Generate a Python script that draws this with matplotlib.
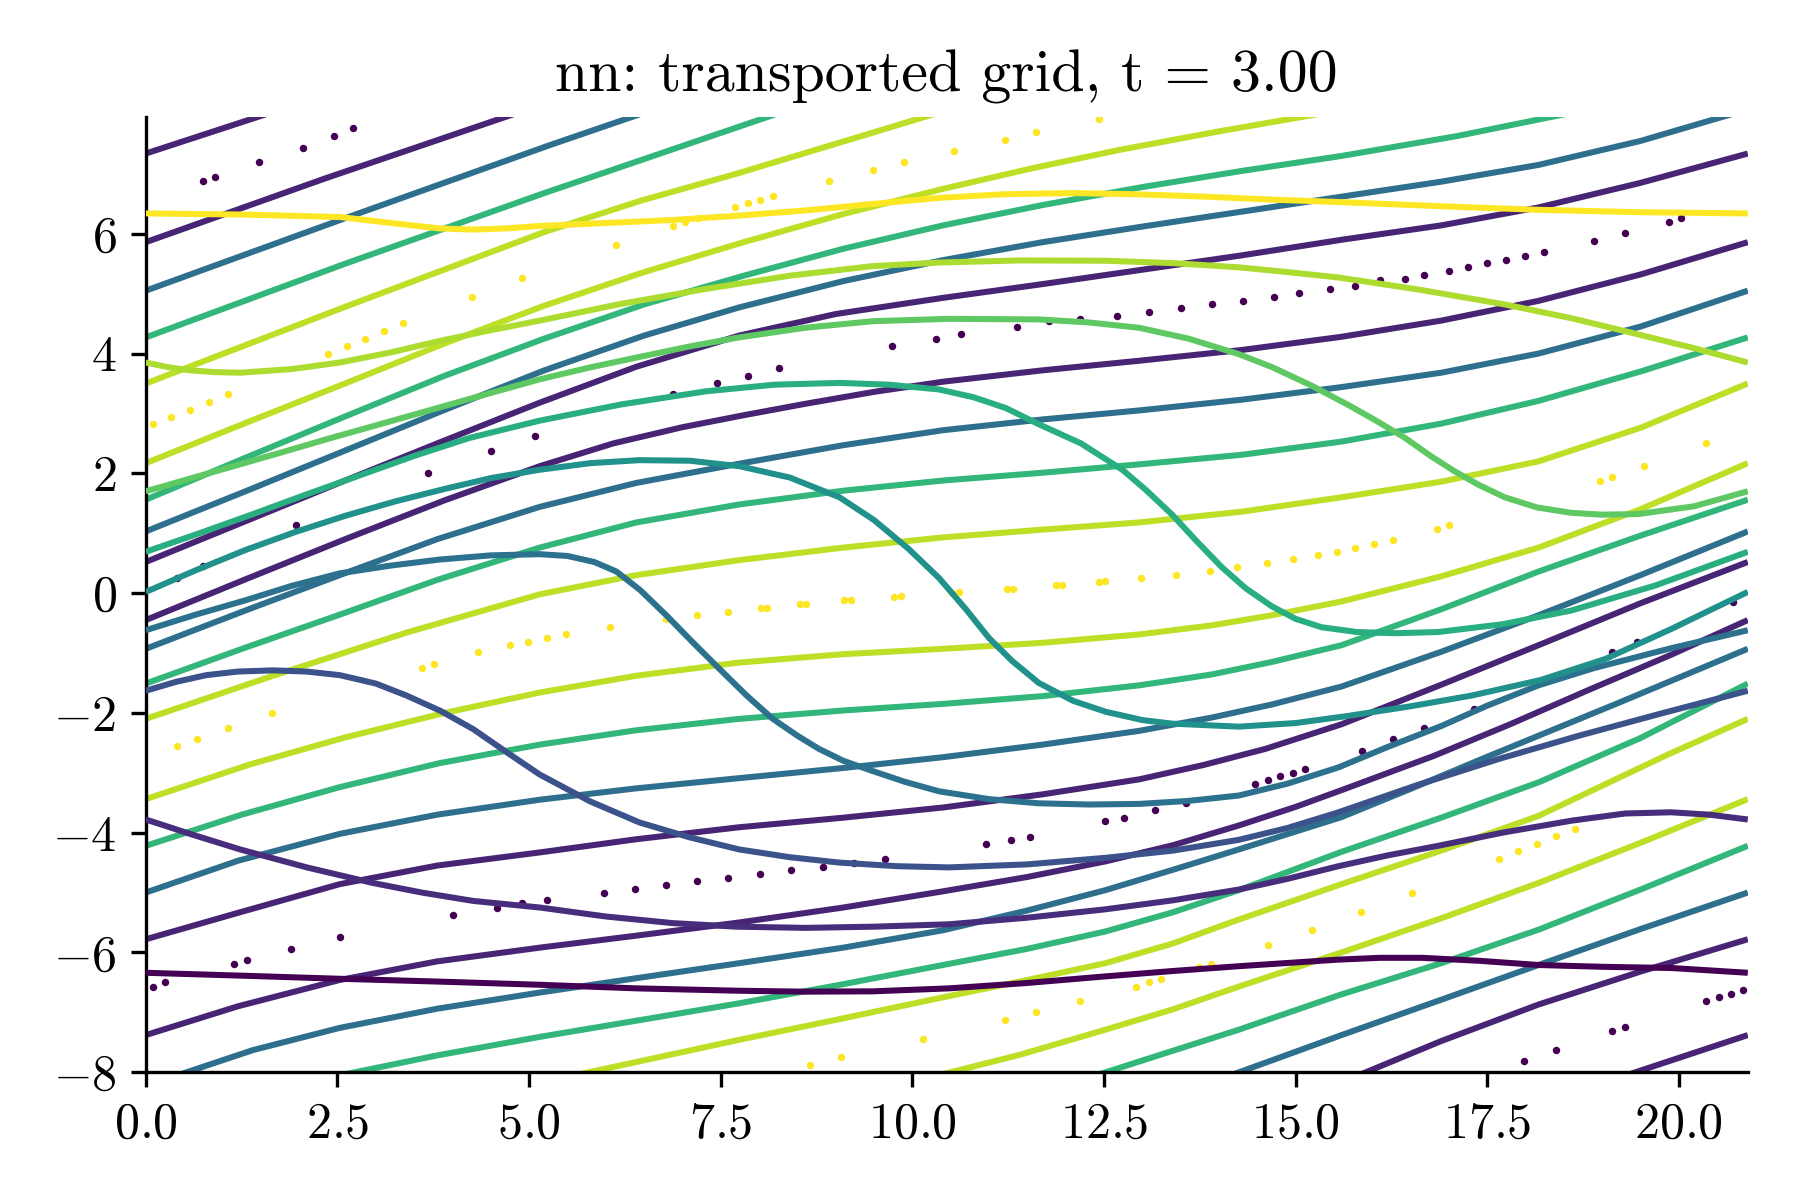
"""Transported grid at t = 3.00 (nn flow), redrawn from the reference figure."""

import matplotlib

matplotlib.use("Agg")
import matplotlib.pyplot as plt
from matplotlib import cm

plt.rcParams.update({
    "font.family": "serif",
    "font.serif": ["cmr10"],
    "mathtext.fontset": "cm",
    "axes.formatter.use_mathtext": True,
    "font.size": 12,
})

X_MAX = 20.9
Y_MIN, Y_MAX = -8.0, 7.95

# transported horizontal grid lines (bottom to top), (x, y)
h1 = [(0, -6.34), (1.3, -6.39), (2.53, -6.44), (3.9, -6.49), (5.14, -6.54), (6.4, -6.60),
      (7.74, -6.64), (8.6, -6.655), (9.48, -6.65), (10.48, -6.60), (11.5, -6.51), (12.52, -6.40),
      (13.4, -6.31), (14.26, -6.23), (15.56, -6.12), (16.1, -6.09), (16.65, -6.09), (17.4, -6.14),
      (18.17, -6.21), (19.0, -6.24), (19.9, -6.26), (20.9, -6.34)]
h2 = [(0, -3.78), (0.6, -4.03), (1.23, -4.28), (2.1, -4.58), (2.96, -4.84), (3.6, -5.0),
      (4.27, -5.14), (5.14, -5.25), (6.0, -5.40), (6.87, -5.51), (7.7, -5.57), (8.61, -5.59),
      (9.5, -5.57), (10.48, -5.53), (11.5, -5.42), (12.52, -5.28), (13.4, -5.13), (14.26, -4.95),
      (14.9, -4.77), (15.56, -4.56), (16.2, -4.38), (16.86, -4.22), (17.7, -4.0), (18.6, -3.80),
      (19.3, -3.68), (19.9, -3.66), (20.4, -3.70), (20.9, -3.78)]
h3 = [(0, -1.63), (0.4, -1.48), (0.79, -1.37), (1.2, -1.31), (1.66, -1.29), (2.1, -1.31),
      (2.53, -1.37), (3.0, -1.51), (3.4, -1.71), (3.85, -1.97), (4.27, -2.27), (4.7, -2.65),
      (5.14, -3.03), (5.8, -3.48), (6.44, -3.83), (7.1, -4.08), (7.74, -4.28), (8.4, -4.41),
      (9.05, -4.50), (9.8, -4.56), (10.48, -4.58), (11.5, -4.53), (12.52, -4.42), (13.4, -4.30),
      (14.26, -4.12), (14.9, -3.92), (15.56, -3.66), (16.6, -3.20), (17.65, -2.77), (18.7, -2.38),
      (19.8, -2.0), (20.9, -1.63)]
h4 = [(0, -0.62), (0.65, -0.36), (1.3, -0.12), (1.9, 0.12), (2.53, 0.33), (3.2, 0.46),
      (3.83, 0.56), (4.5, 0.63), (5.14, 0.65), (5.5, 0.62), (5.85, 0.52), (6.14, 0.36), (6.45, 0.05),
      (6.79, -0.37), (7.15, -0.84), (7.48, -1.26), (7.83, -1.70), (8.18, -2.10), (8.5, -2.38),
      (8.78, -2.60), (9.1, -2.80), (9.48, -2.97), (9.9, -3.15), (10.35, -3.31), (11.0, -3.44),
      (11.65, -3.51), (12.3, -3.53), (12.96, -3.52), (13.6, -3.47), (14.26, -3.38), (14.9, -3.18),
      (15.56, -2.91), (16.2, -2.57), (16.9, -2.22), (17.5, -1.88), (18.17, -1.54), (18.9, -1.25),
      (19.9, -0.92), (20.9, -0.62)]
h5 = [(0, 0.02), (0.65, 0.38), (1.3, 0.72), (1.95, 1.02), (2.6, 1.29), (3.25, 1.53), (3.9, 1.74),
      (4.5, 1.92), (5.14, 2.06), (5.8, 2.17), (6.44, 2.22), (7.1, 2.21), (7.74, 2.12), (8.4, 1.93),
      (9.05, 1.60), (9.5, 1.22), (9.95, 0.74), (10.35, 0.25), (10.7, -0.27), (11.0, -0.75),
      (11.3, -1.13), (11.65, -1.50), (12.1, -1.80), (12.52, -1.98), (13.0, -2.12), (13.39, -2.18),
      (14.26, -2.23), (15.0, -2.17), (15.69, -2.05), (16.5, -1.89), (17.3, -1.71), (18.2, -1.45),
      (19.04, -1.10), (19.9, -0.60), (20.9, 0.02)]
h6 = [(0, 0.69), (0.7, 1.0), (1.4, 1.32), (2.1, 1.65), (2.8, 1.97), (3.5, 2.29), (4.22, 2.59),
      (5.14, 2.88), (6.2, 3.15), (7.31, 3.37), (8.2, 3.48), (9.05, 3.51), (9.7, 3.48), (10.35, 3.40),
      (10.8, 3.27), (11.22, 3.09), (11.65, 2.82), (12.2, 2.50), (12.74, 2.06), (13.05, 1.72),
      (13.39, 1.31), (13.7, 0.88), (14.04, 0.43), (14.35, 0.08), (14.69, -0.22), (15.0, -0.43),
      (15.34, -0.57), (15.8, -0.65), (16.3, -0.67), (16.86, -0.65), (17.7, -0.52), (18.6, -0.29),
      (19.7, 0.13), (20.9, 0.69)]
h7 = [(0, 1.70), (0.6, 1.92), (1.2, 2.14), (1.8, 2.36), (2.36, 2.57), (3.5, 2.98), (4.3, 3.27),
      (5.14, 3.57), (5.8, 3.77), (6.5, 3.96), (7.1, 4.12), (7.74, 4.27), (8.6, 4.43), (9.48, 4.54),
      (10.48, 4.58), (11.65, 4.57), (12.3, 4.52), (12.96, 4.43), (13.6, 4.25), (14.26, 3.99),
      (14.7, 3.77), (15.2, 3.47), (15.69, 3.14), (16.05, 2.88), (16.43, 2.59), (16.75, 2.30),
      (17.08, 2.03), (17.4, 1.80), (17.73, 1.60), (18.15, 1.43), (18.6, 1.34), (19.0, 1.31),
      (19.47, 1.32), (20.2, 1.45), (20.9, 1.70)]
h8 = [(0, 3.85), (0.3, 3.77), (0.58, 3.72), (0.9, 3.69), (1.23, 3.68), (1.9, 3.74), (2.53, 3.85),
      (3.2, 4.02), (3.83, 4.21), (4.5, 4.39), (5.14, 4.55), (6.2, 4.83), (7.31, 5.08), (8.4, 5.30),
      (9.48, 5.46), (10.35, 5.52), (11.4, 5.555), (12.52, 5.55), (13.4, 5.51), (14.26, 5.44),
      (14.9, 5.36), (15.56, 5.27), (16.6, 5.07), (17.73, 4.82), (18.6, 4.59), (19.47, 4.32),
      (20.2, 4.09), (20.9, 3.85)]
h9 = [(0, 6.34), (1.3, 6.32), (2.53, 6.28), (3.2, 6.18), (3.83, 6.09), (4.27, 6.07), (4.7, 6.09),
      (5.14, 6.13), (6.0, 6.18), (6.87, 6.23), (7.7, 6.30), (8.61, 6.39), (9.5, 6.50), (10.35, 6.60),
      (11.2, 6.66), (12.09, 6.68), (12.9, 6.66), (13.82, 6.62), (14.7, 6.57), (15.56, 6.53),
      (16.9, 6.46), (18.17, 6.40), (19.5, 6.36), (20.9, 6.34)]

# transported vertical grid lines, pieces between the plot edges, grouped by colour
purple_pieces = [
    [(0, 7.34), (1.65, 8.03)],
    [(0, 5.86), (2.33, 6.92), (4.85, 8.02)],
    [(0, 0.52), (1.3, 1.20), (2.6, 1.88), (3.9, 2.55), (5.14, 3.18), (6.4, 3.78), (7.74, 4.30),
     (9.0, 4.66), (10.4, 4.93), (11.7, 5.16), (13.0, 5.40), (14.3, 5.64), (15.6, 5.90),
     (16.9, 6.14), (18.17, 6.44), (19.5, 6.85), (20.9, 7.34)],
    [(0, -0.45), (1.3, 0.23), (2.6, 0.90), (3.9, 1.55), (5.14, 2.12), (6.1, 2.50), (7.0, 2.77),
     (7.8, 2.97), (8.6, 3.16), (9.5, 3.36), (10.4, 3.53), (11.7, 3.72), (12.96, 3.88), (14.3, 4.06),
     (15.6, 4.28), (16.9, 4.55), (18.17, 4.88), (19.5, 5.32), (20.9, 5.86)],
    [(0, -5.78), (1.2, -5.34), (2.53, -4.86), (3.8, -4.55), (5.14, -4.33), (6.4, -4.11),
     (7.74, -3.91), (9.1, -3.75), (10.4, -3.58), (11.7, -3.36), (12.96, -3.11), (13.8, -2.87),
     (14.61, -2.60), (15.6, -2.19), (16.9, -1.53), (18.17, -0.87), (19.5, -0.17), (20.9, 0.52)],
    [(0, -7.38), (1.2, -6.90), (2.53, -6.46), (3.8, -6.15), (5.14, -5.92), (6.4, -5.72),
     (7.74, -5.50), (9.1, -5.25), (10.4, -4.98), (11.5, -4.74), (12.52, -4.48), (13.4, -4.21),
     (14.26, -3.88), (15.0, -3.57), (15.6, -3.29), (16.8, -2.72), (17.8, -2.19), (18.8, -1.63),
     (19.9, -1.03), (20.9, -0.45)],
    [(15.73, -8.1), (16.9, -7.48), (18.17, -6.87), (19.5, -6.32), (20.9, -5.78)],
    [(19.2, -8.1), (20.9, -7.38)],
]
blue_pieces = [
    [(0, 5.05), (2.6, 6.26), (5.27, 7.48), (6.5, 8.02)],
    [(0, 1.03), (1.3, 1.70), (2.6, 2.38), (3.9, 3.06), (5.2, 3.72), (6.5, 4.30), (7.74, 4.77),
     (9.1, 5.21), (10.4, 5.56), (11.7, 5.86), (13.0, 6.12), (14.3, 6.37), (15.6, 6.62),
     (16.9, 6.87), (18.17, 7.15), (19.5, 7.55), (20.75, 8.02)],
    [(0, -0.93), (1.3, -0.29), (2.53, 0.30), (3.8, 0.90), (5.14, 1.44), (6.4, 1.84), (7.74, 2.16),
     (9.1, 2.47), (10.4, 2.72), (11.7, 2.90), (12.96, 3.05), (14.3, 3.23), (15.6, 3.44),
     (16.9, 3.68), (18.17, 4.00), (19.5, 4.45), (20.9, 5.05)],
    [(0, -5.0), (1.2, -4.47), (2.53, -4.02), (3.8, -3.70), (5.14, -3.45), (6.4, -3.26),
     (7.74, -3.09), (9.1, -2.92), (10.4, -2.74), (11.7, -2.53), (12.96, -2.30), (13.9, -2.08),
     (14.69, -1.86), (15.6, -1.56), (16.9, -0.98), (18.17, -0.37), (19.5, 0.30), (20.9, 1.03)],
    [(0.3, -8.1), (1.4, -7.63), (2.53, -7.26), (3.8, -6.94), (5.14, -6.67), (6.4, -6.43),
     (7.74, -6.18), (9.1, -5.92), (10.4, -5.63), (11.5, -5.30), (12.52, -4.96), (13.4, -4.62),
     (14.26, -4.28), (15.6, -3.74), (16.5, -3.27), (17.43, -2.77), (19.2, -1.84), (20.9, -0.93)],
    [(14.05, -8.1), (15.6, -7.38), (16.9, -6.79), (18.17, -6.21), (19.5, -5.61), (20.9, -5.0)],
]
green_pieces = [
    [(0, 4.27), (2.6, 5.50), (5.2, 6.68), (8.27, 8.02)],
    [(0, 1.56), (1.3, 2.26), (2.6, 2.95), (3.9, 3.63), (5.2, 4.25), (6.5, 4.82), (7.8, 5.30),
     (9.1, 5.75), (10.4, 6.14), (11.7, 6.48), (13.0, 6.78), (14.3, 7.05), (15.6, 7.30),
     (17.1, 7.63), (18.6, 8.02)],
    [(0, -1.51), (1.3, -0.91), (2.53, -0.36), (3.8, 0.22), (5.14, 0.76), (6.4, 1.18), (7.74, 1.48),
     (9.1, 1.71), (10.4, 1.88), (11.7, 2.01), (12.96, 2.15), (14.3, 2.31), (15.6, 2.53),
     (16.9, 2.83), (18.17, 3.21), (19.5, 3.70), (20.9, 4.27)],
    [(0, -4.22), (1.25, -3.70), (2.53, -3.24), (3.83, -2.84), (5.14, -2.53), (6.4, -2.29),
     (7.74, -2.10), (9.1, -1.96), (10.4, -1.85), (11.7, -1.72), (12.96, -1.54), (13.9, -1.36),
     (14.69, -1.15), (15.6, -0.87), (16.9, -0.27), (18.17, 0.36), (19.5, 0.96), (20.9, 1.56)],
    [(2.35, -8.1), (3.8, -7.72), (5.14, -7.41), (6.4, -7.14), (7.74, -6.85), (9.1, -6.53),
     (10.4, -6.21), (11.5, -5.94), (12.52, -5.65), (13.4, -5.33), (14.26, -4.96), (15.6, -4.32),
     (16.9, -3.75), (18.17, -3.16), (19.5, -2.42), (20.9, -1.51)],
    [(12.28, -8.1), (14.26, -7.29), (15.6, -6.70), (16.9, -6.18), (18.17, -5.62), (19.5, -4.95),
     (20.9, -4.22)],
]
yellow_pieces = [
    [(0, 3.50), (2.6, 4.78), (5.2, 6.03), (6.45, 6.55), (7.7, 7.0), (10.34, 8.02)],
    [(0, 2.17), (1.3, 2.84), (2.6, 3.50), (3.9, 4.17), (5.2, 4.80), (6.5, 5.36), (7.8, 5.86),
     (9.1, 6.33), (10.4, 6.75), (11.55, 7.09), (12.7, 7.40), (14.0, 7.71), (15.3, 8.0)],
    [(0, -2.10), (1.66, -1.38), (3.4, -0.66), (5.14, -0.02), (6.4, 0.30), (7.74, 0.55), (9.1, 0.76),
     (10.4, 0.93), (11.7, 1.06), (12.96, 1.18), (14.3, 1.36), (15.6, 1.60), (16.9, 1.86),
     (18.17, 2.20), (19.5, 2.76), (20.9, 3.50)],
    [(0, -3.44), (1.36, -2.86), (2.6, -2.41), (3.9, -2.00), (5.14, -1.66), (6.4, -1.38),
     (7.74, -1.16), (9.1, -1.02), (10.4, -0.93), (11.7, -0.83), (12.96, -0.69), (13.9, -0.54),
     (14.69, -0.37), (15.6, -0.14), (16.9, 0.28), (18.17, 0.76), (19.5, 1.40), (20.9, 2.17)],
    [(5.42, -8.1), (7.74, -7.46), (9.1, -7.10), (10.4, -6.75), (11.5, -6.46), (12.52, -6.18),
     (13.4, -5.85), (14.26, -5.45), (15.6, -4.86), (16.9, -4.30), (18.17, -3.72), (19.85, -2.70),
     (20.9, -2.10)],
    [(10.19, -8.1), (11.4, -7.71), (12.52, -7.29), (13.4, -6.95), (14.26, -6.57), (15.6, -6.0),
     (16.9, -5.43), (18.17, -4.84), (19.5, -4.17), (20.9, -3.44)],
]

# particles
purple_dots = [
    (0.09, -6.57), (0.25, -6.50), (1.153, -6.19), (1.314, -6.13), (1.888, -5.94), (2.54, -5.75),
    (4.008, -5.38), (4.581, -5.25), (4.911, -5.17), (5.232, -5.13), (5.98, -5.00), (6.384, -4.94),
    (6.788, -4.88), (7.196, -4.81), (7.60, -4.75), (8.008, -4.69), (8.421, -4.62), (8.829, -4.57),
    (9.242, -4.50), (9.65, -4.44), (10.958, -4.19), (11.283, -4.12), (11.531, -4.07), (12.512, -3.81),
    (12.76, -3.75), (13.168, -3.62), (13.572, -3.50), (14.467, -3.18), (14.636, -3.12), (14.801, -3.06),
    (14.962, -3.00), (15.127, -2.94), (15.865, -2.63), (16.269, -2.44), (16.682, -2.25), (17.334, -1.93),
    (18.559, -1.31), (19.132, -0.99), (19.458, -0.82), (20.71, -0.15),
    (0.411, 0.26), (0.741, 0.45), (1.966, 1.13), (3.682, 2.00), (4.498, 2.38), (5.072, 2.63),
    (6.874, 3.33), (7.447, 3.51), (7.852, 3.63), (8.26, 3.76), (9.733, 4.13), (10.306, 4.25),
    (10.636, 4.32), (11.37, 4.45), (11.783, 4.55), (12.191, 4.57), (12.669, 4.63), (13.082, 4.70),
    (13.499, 4.76), (13.907, 4.82), (14.311, 4.88), (14.715, 4.95), (15.05, 5.01), (15.454, 5.07),
    (15.779, 5.13), (16.105, 5.23), (16.431, 5.25), (16.682, 5.32), (17.008, 5.38), (17.256, 5.44),
    (17.503, 5.51), (17.747, 5.57), (17.989, 5.63), (18.237, 5.70), (18.888, 5.88), (19.297, 6.01),
    (19.871, 6.19), (20.031, 6.26),
    (0.741, 6.88), (0.906, 6.95), (1.475, 7.20), (2.049, 7.44), (2.456, 7.63), (2.70, 7.76),
    (17.986, -7.81), (18.394, -7.63), (19.132, -7.31), (19.297, -7.25), (20.357, -6.81),
    (20.522, -6.75), (20.687, -6.69), (20.84, -6.62),
]
yellow_dots = [
    (0.09, 2.83), (0.333, 2.94), (0.576, 3.06), (0.82, 3.19), (1.067, 3.32), (2.378, 4.00),
    (2.622, 4.13), (2.865, 4.25), (3.113, 4.38), (3.356, 4.51), (4.255, 4.95), (4.911, 5.26),
    (6.136, 5.82), (6.874, 6.13), (7.035, 6.20), (7.20, 6.26), (7.691, 6.45), (7.852, 6.51),
    (8.017, 6.57), (8.182, 6.63), (8.916, 6.88), (9.489, 7.07), (9.897, 7.20), (10.549, 7.38),
    (11.205, 7.57), (11.613, 7.70), (12.434, 7.91),
    (0.411, -2.56), (0.663, -2.44), (1.067, -2.25), (1.64, -2.00), (3.60, -1.25), (3.765, -1.18),
    (4.338, -0.99), (4.746, -0.87), (4.989, -0.81), (5.232, -0.75), (5.484, -0.69), (6.058, -0.56),
    (6.788, -0.44), (7.187, -0.37), (7.60, -0.31), (8.02, -0.25), (8.10, -0.245), (8.53, -0.19),
    (8.61, -0.185), (9.11, -0.12), (9.20, -0.115), (9.76, -0.06), (9.85, -0.055), (10.52, 0.01),
    (10.61, 0.015), (11.23, 0.07), (11.31, 0.075), (11.87, 0.13), (11.95, 0.135), (12.43, 0.19),
    (12.51, 0.195), (12.981, 0.25), (13.437, 0.31), (13.88, 0.37), (14.241, 0.44), (14.632, 0.51),
    (14.962, 0.57), (15.288, 0.63), (15.54, 0.69), (15.779, 0.76), (16.027, 0.82), (16.269, 0.88),
    (16.843, 1.07), (17.008, 1.13), (18.972, 1.88), (19.132, 1.94), (19.54, 2.13), (20.361, 2.51),
    (8.668, -7.88), (9.076, -7.75), (10.141, -7.44), (11.205, -7.13), (11.609, -7.00), (12.183, -6.81),
    (12.92, -6.57), (13.086, -6.50), (13.246, -6.44), (13.737, -6.25), (13.903, -6.19), (14.636, -5.87),
    (15.209, -5.62), (15.857, -5.32), (16.517, -5.00), (17.66, -4.44), (17.907, -4.31), (18.15, -4.19),
    (18.398, -4.06), (18.641, -3.94),
]

horizontal_lines = [h1, h2, h3, h4, h5, h6, h7, h8, h9]
vertical_groups = [
    (purple_pieces, 0.10),
    (blue_pieces, 0.36),
    (green_pieces, 0.66),
    (yellow_pieces, 0.90),
]


def draw_line(ax, points, color, zorder):
    xs, ys = zip(*points)
    ax.plot(xs, ys, color=color, lw=1.45, solid_capstyle="butt", solid_joinstyle="round",
            zorder=zorder)


fig = plt.figure(figsize=(6, 4), dpi=300)
ax = fig.add_axes([0.081, 0.1065, 0.89, 0.796])

for dots, shade in [(purple_dots, 0.0), (yellow_dots, 1.0)]:
    xs, ys = zip(*dots)
    ax.scatter(xs, ys, s=3.2, color=cm.viridis(shade), linewidths=0, zorder=1)

for pieces, shade in vertical_groups:
    for piece in pieces:
        draw_line(ax, piece, cm.viridis(shade), 2)

for i, line in enumerate(horizontal_lines):
    draw_line(ax, line, cm.viridis(i / (len(horizontal_lines) - 1)), 3)

ax.set_xlim(0, X_MAX)
ax.set_ylim(Y_MIN, Y_MAX)
ax.set_xticks([0, 2.5, 5, 7.5, 10, 12.5, 15, 17.5, 20])
ax.set_yticks([-8, -6, -4, -2, 0, 2, 4, 6])
ax.spines["top"].set_visible(False)
ax.spines["right"].set_visible(False)
ax.set_title("nn: transported grid, t = 3.00", fontsize=14.4)

fig.savefig("out.png", dpi=300)
